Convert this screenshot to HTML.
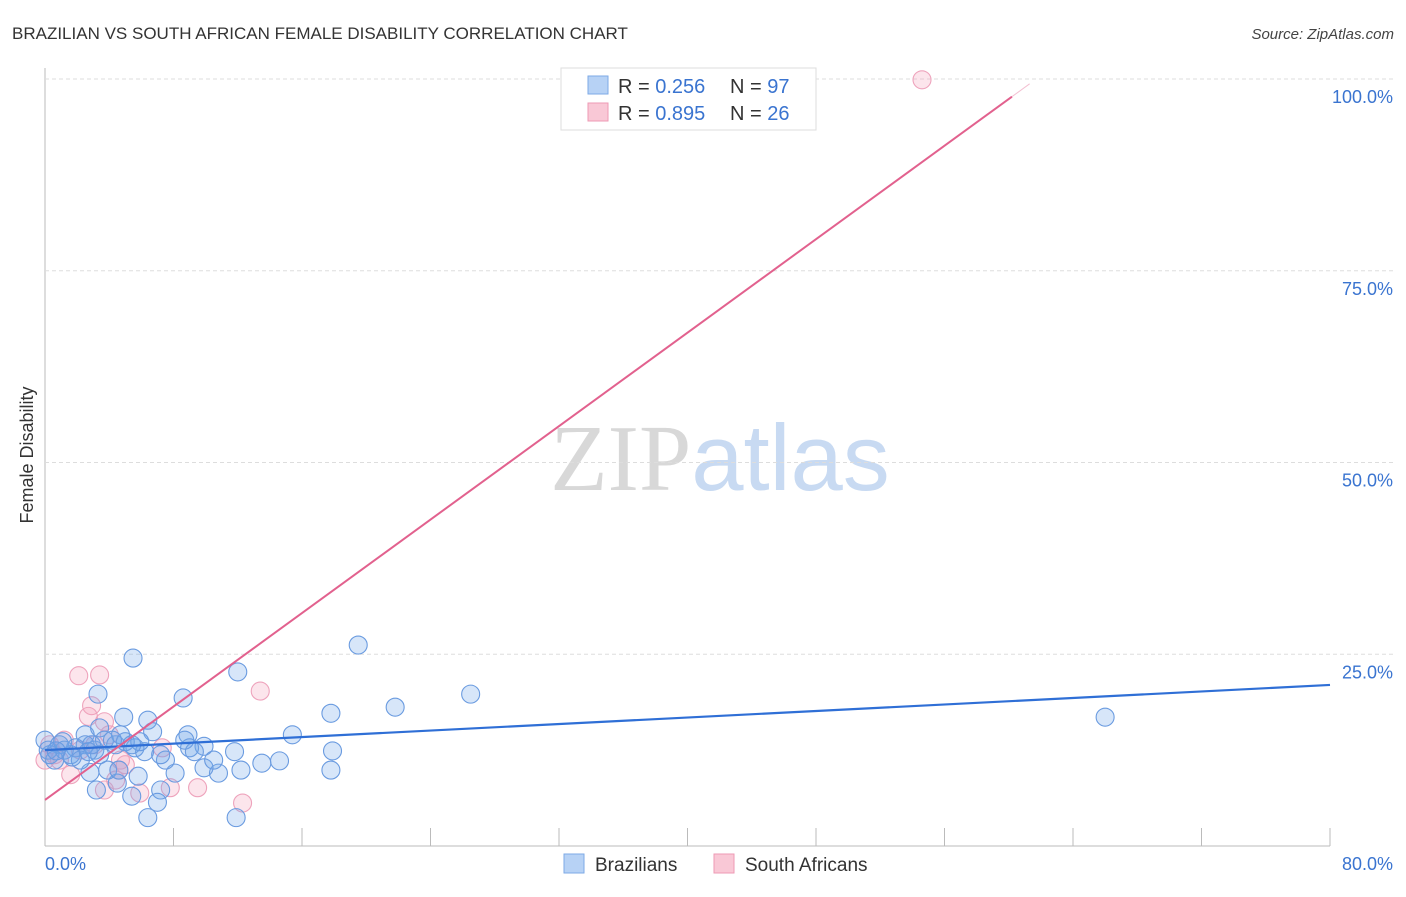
<!DOCTYPE html>
<html><head><meta charset="utf-8"><style>
body{margin:0;background:#fff;font-family:"Liberation Sans",sans-serif}
svg text{font-family:"Liberation Sans",sans-serif}
</style></head><body>
<svg id="c" width="1406" height="892" xmlns="http://www.w3.org/2000/svg">
<text x="12" y="39" font-size="17" fill="#333">BRAZILIAN VS SOUTH AFRICAN FEMALE DISABILITY CORRELATION CHART</text>
<text x="1394" y="39" font-size="15" fill="#444" text-anchor="end" font-style="italic">Source: ZipAtlas.com</text>
<text x="720" y="490" text-anchor="middle" font-size="94"><tspan font-family="Liberation Serif" fill="#d8d8d8">ZIP</tspan><tspan fill="#c8daf2">atlas</tspan></text>
<text transform="translate(33,455) rotate(-90)" text-anchor="middle" font-size="18" fill="#333">Female Disability</text>
<g id="grid"></g><g id="pts"></g><g id="lines"></g>
<g>
<rect x="561" y="68" width="255" height="62" fill="#fff" stroke="#ddd"/>
<rect x="588" y="76" width="20" height="18" fill="#b7d2f5" stroke="#7eaae6"/>
<rect x="588" y="103" width="20" height="18" fill="#f9c8d6" stroke="#ee9ab4"/>
<text x="618" y="93" font-size="20" fill="#333">R = <tspan fill="#3a74d0">0.256</tspan></text>
<text x="730" y="93" font-size="20" fill="#333">N = <tspan fill="#3a74d0">97</tspan></text>
<text x="618" y="120" font-size="20" fill="#333">R = <tspan fill="#3a74d0">0.895</tspan></text>
<text x="730" y="120" font-size="20" fill="#333">N = <tspan fill="#3a74d0">26</tspan></text>
</g>
<g>
<rect x="564" y="854" width="20" height="19" fill="#b7d2f5" stroke="#7eaae6"/>
<text x="595" y="871" font-size="19" fill="#333">Brazilians</text>
<rect x="714" y="854" width="20" height="19" fill="#f9c8d6" stroke="#ee9ab4"/>
<text x="745" y="871" font-size="19" fill="#333">South Africans</text>
</g>
</svg>
<script>
const xTicks=[0,8,16,24,32,40,48,56,64,72,80];
const yTicks=[25,50,75,100];
const blueX=[5.48,3.3,8.6,12.0,19.5,17.8,21.8,26.5,66.0,4.9,6.4,15.4,17.9,17.8,8.9,6.7,2.5,3.4,9.9,11.8,13.5,14.6,12.2,10.8,9.9,10.5,8.1,7.5,5.8,7.2,7.0,6.4,11.9,5.4,3.2,4.5,2.8,3.9,0.9,1.6,0.3,0.6,1.9,2.5,3.1,3.7,4.4,5.0,5.6,6.2,7.2,9.0,9.3,4.7,4.2,5.9,1.2,2.2,0,0.2,3.4,2.9,5.4,8.7,4.6,1.1,1.7,0.7,2.7];
const blueY=[24.5,19.8,19.3,22.7,26.2,17.3,18.1,19.8,16.8,16.8,16.4,14.5,12.4,9.9,14.5,14.9,14.5,15.4,13.0,12.3,10.8,11.1,9.9,9.5,10.2,11.2,9.5,11.2,9.1,7.3,5.7,3.7,3.7,6.5,7.3,8.2,9.6,9.9,13.2,11.9,11.9,11.2,12.8,13.2,12.5,13.8,13.2,13.6,12.8,12.3,11.9,12.8,12.3,14.5,13.8,13.6,12.5,11.2,13.8,12.5,11.9,13.2,13.2,13.8,9.9,13.6,11.6,12.4,12.3];
const pinkX=[54.6,2.1,3.4,13.4,2.9,2.7,3.7,1.2,0.3,7.3,4.6,4.7,1.6,3.7,5.9,7.8,9.5,12.3,4.4,0.6,2.2,0.9,5.0,3.1,4.0,0];
const pinkY=[99.9,22.2,22.3,20.2,18.3,16.9,16.2,13.8,13.2,12.8,9.9,11.2,9.3,7.3,6.9,7.6,7.6,5.6,8.6,11.9,12.5,11.2,10.6,13.2,14.5,11.2];
const blueFit=[0,12.5,80,21.0];
const pinkFit=[0,6.0,60.2,97.7];
const X=v=>45+v*1285/80, Y=v=>846-v*7.67;
const NS='http://www.w3.org/2000/svg';
function mk(p,t,a){const e=document.createElementNS(NS,t);for(const k in a)e.setAttribute(k,a[k]);p.appendChild(e);return e;}
const g=document.getElementById('grid');
let ax=mk(g,'line',{x1:45,y1:68,x2:45,y2:846,stroke:'#bbb'});


let bx=mk(g,'line',{x1:45,y1:846,x2:1330,y2:846,stroke:'#bbb'});


yTicks.forEach(v=>{
 const l=mk(g,'line',{x1:45,y1:Y(v),x2:1394,y2:Y(v),stroke:'#ddd','stroke-dasharray':'4,3'});
 
 
 const t=mk(g,'text',{x:1393,y:Y(v)+24,'font-size':18,fill:'#3a74d0','text-anchor':'end'});t.textContent=v.toFixed(1)+'%';
 
 
});
xTicks.forEach(v=>{
 const l=mk(g,'line',{x1:X(v),y1:828,x2:X(v),y2:846,stroke:'#bbb'});
 
 
});
[[0,'start',45],[80,'end',1393]].forEach(([v,a,x])=>{
 const t=mk(g,'text',{x:x,y:870,'font-size':18,fill:'#3a74d0','text-anchor':a});t.textContent=v.toFixed(1)+'%';
 
 
});
const P=document.getElementById('pts');
pinkX.forEach((x,i)=>{const c=mk(P,'circle',{cx:X(x),cy:Y(pinkY[i]),r:9,fill:'rgba(244,160,188,0.28)',stroke:'#eea3bc','stroke-width':1.1});
 
 });
blueX.forEach((x,i)=>{const c=mk(P,'circle',{cx:X(x),cy:Y(blueY[i]),r:9,fill:'rgba(110,165,235,0.28)',stroke:'#6a9be0','stroke-width':1.1});
 
 });
const L=document.getElementById('lines');
let b=mk(L,'line',{x1:X(blueFit[0]),y1:Y(blueFit[1]),x2:X(blueFit[2]),y2:Y(blueFit[3]),stroke:'#2f6fd6','stroke-width':2.2});


let p=mk(L,'line',{x1:X(pinkFit[0]),y1:Y(pinkFit[1]),x2:X(pinkFit[2]),y2:Y(pinkFit[3]),stroke:'#e2618e','stroke-width':2});


const s=(pinkFit[3]-pinkFit[1])/(pinkFit[2]-pinkFit[0]);
let pd=mk(L,'line',{x1:X(pinkFit[2]),y1:Y(pinkFit[3]),x2:X(61.3),y2:Y(pinkFit[1]+s*61.3),stroke:'#e2618e','stroke-width':1,opacity:0.4});


</script>
</body></html>
